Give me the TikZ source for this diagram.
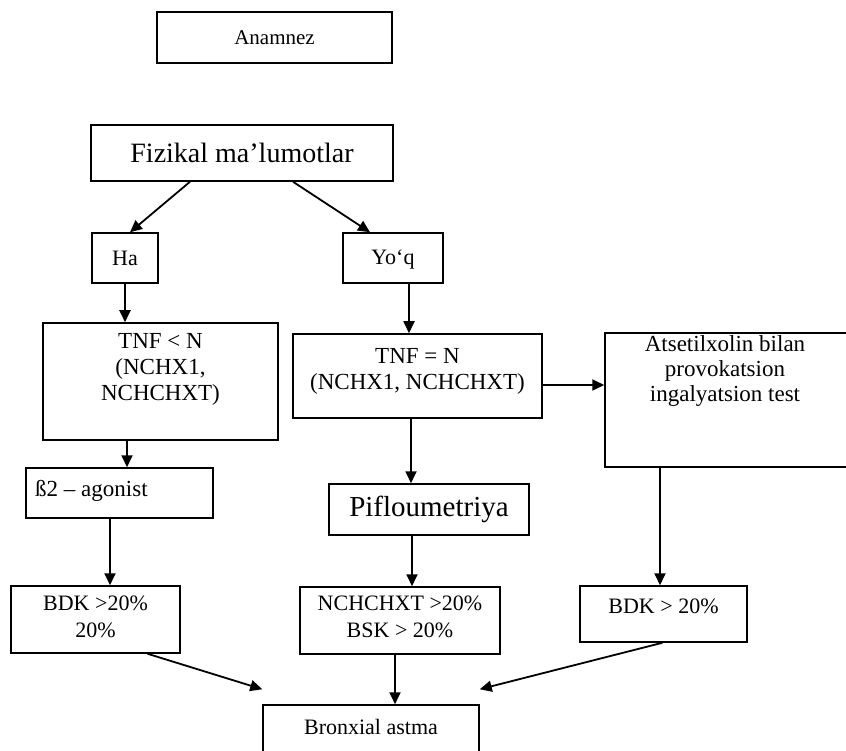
\documentclass[tikz,border=0pt]{standalone}
\usepackage{fontspec}
\setmainfont{Liberation Serif}
\usetikzlibrary{arrows.meta}
\tikzset{
  box/.style={draw, line width=1.5pt, inner sep=0pt},
  txt/.style={align=center, inner sep=0pt, font=\fontsize{22}{27}\selectfont},
  arr/.style={line width=1.8pt, -{Triangle[length=12pt,width=11pt]}},
}
\begin{document}
\begin{tikzpicture}[x=1pt,y=-1pt]
\useasboundingbox (0,0) rectangle (846,751);
\clip (0,0) rectangle (846,751);
% boxes
\node[box, minimum width=235pt, minimum height=51pt] (anam) at (274.5,37.5) {};
\node[txt, font=\fontsize{21}{24}\selectfont] (anamT) at (anam) {Anamnez};
\node[box, minimum width=302pt, minimum height=56pt] (fiz) at (242,153) {};
\node[txt, font=\fontsize{28}{32}\selectfont] (fizT) at (fiz) {Fizikal ma’lumotlar};
\node[box, minimum width=66pt, minimum height=50pt] (ha) at (125,258) {};
\node[txt] (haT) at (ha) {Ha};
\node[box, minimum width=100pt, minimum height=50pt] (yoq) at (393,258) {};
\node[txt] (yoqT) at (393,260) {Yo‘q};
\node[box, minimum width=235pt, minimum height=117pt] (tnfl) at (160.5,381.5) {};
\node[txt, font=\fontsize{23}{26}\selectfont] (tnflT) at (160.5,369) {TNF < N\\(NCHX1,\\NCHCHXT)};
\node[box, minimum width=249pt, minimum height=84pt] (tnfe) at (417.5,376) {};
\node[txt, font=\fontsize{23}{26}\selectfont] (tnfeT) at (417.5,371) {TNF = N\\(NCHX1, NCHCHXT)};
\node[box, minimum width=245pt, minimum height=134pt] (ats) at (727.5,400) {};
\node[txt, font=\fontsize{23}{25}\selectfont] (atsT) at (725,371) {Atsetilxolin bilan\\provokatsion\\ingalyatsion test};
\node[box, minimum width=187pt, minimum height=50pt] (beta) at (119.5,493) {};
\node[txt, anchor=west, font=\fontsize{23}{27}\selectfont] (betaT) at (35,491) {ß2 – agonist};
\node[box, minimum width=200pt, minimum height=51pt] (pif) at (429,509.5) {};
\node[txt, font=\fontsize{29}{32}\selectfont] (pifT) at (pif) {Pifloumetriya};
\node[box, minimum width=169pt, minimum height=67pt] (bdkl) at (95.5,619.5) {};
\node[txt] (bdklT) at (95.5,617) {BDK >20\%\\20\%};
\node[box, minimum width=200pt, minimum height=67pt] (nch) at (400,620.5) {};
\node[txt] (nchT) at (400,617) {NCHCHXT >20\%\\BSK > 20\%};
\node[box, minimum width=167pt, minimum height=56pt] (bdkr) at (663.5,614) {};
\node[txt] (bdkrT) at (663.5,606) {BDK > 20\%};
\node[box, minimum width=216pt, minimum height=60pt] (bron) at (371,735) {};
\node[txt] (bronT) at (371,727) {Bronxial astma};
% connectors
\draw[arr] ([xshift=-52pt]fiz.south) -- ([xshift=5pt]ha.north);
\draw[arr] ([xshift=51pt]fiz.south) -- ([xshift=-23pt]yoq.north);
\draw[arr] (ha.south) -- (ha.south |- tnfl.north);
\draw[arr] ([xshift=-33.5pt]tnfl.south) -- ([xshift=-33.5pt]tnfl.south |- beta.north);
\draw[arr] ([xshift=-9.5pt]beta.south) -- ([xshift=-9.5pt]beta.south |- bdkl.north);
\draw[arr] ([xshift=16pt]yoq.south) -- ([xshift=16pt]yoq.south |- tnfe.north);
\draw[arr] ([xshift=-6.5pt]tnfe.south) -- ([xshift=-6.5pt]tnfe.south |- pif.north);
\draw[arr] ([yshift=-9pt]tnfe.east) -- ([yshift=-9pt]tnfe.east -| ats.west);
\draw[arr] ([xshift=-17pt]pif.south) -- ([xshift=-17pt]pif.south |- nch.north);
\draw[arr] ([xshift=-67.5pt]ats.south) -- ([xshift=-67.5pt]ats.south |- bdkr.north);
\draw[arr] ([xshift=-5pt]nch.south) -- ([xshift=-5pt]nch.south |- bron.north);
\draw[arr] ([xshift=52pt]bdkl.south) -- ([yshift=15pt]bron.north west);
\draw[arr] ([xshift=-1pt]bdkr.south) -- ([yshift=15pt]bron.north east);
\end{tikzpicture}
\end{document}
